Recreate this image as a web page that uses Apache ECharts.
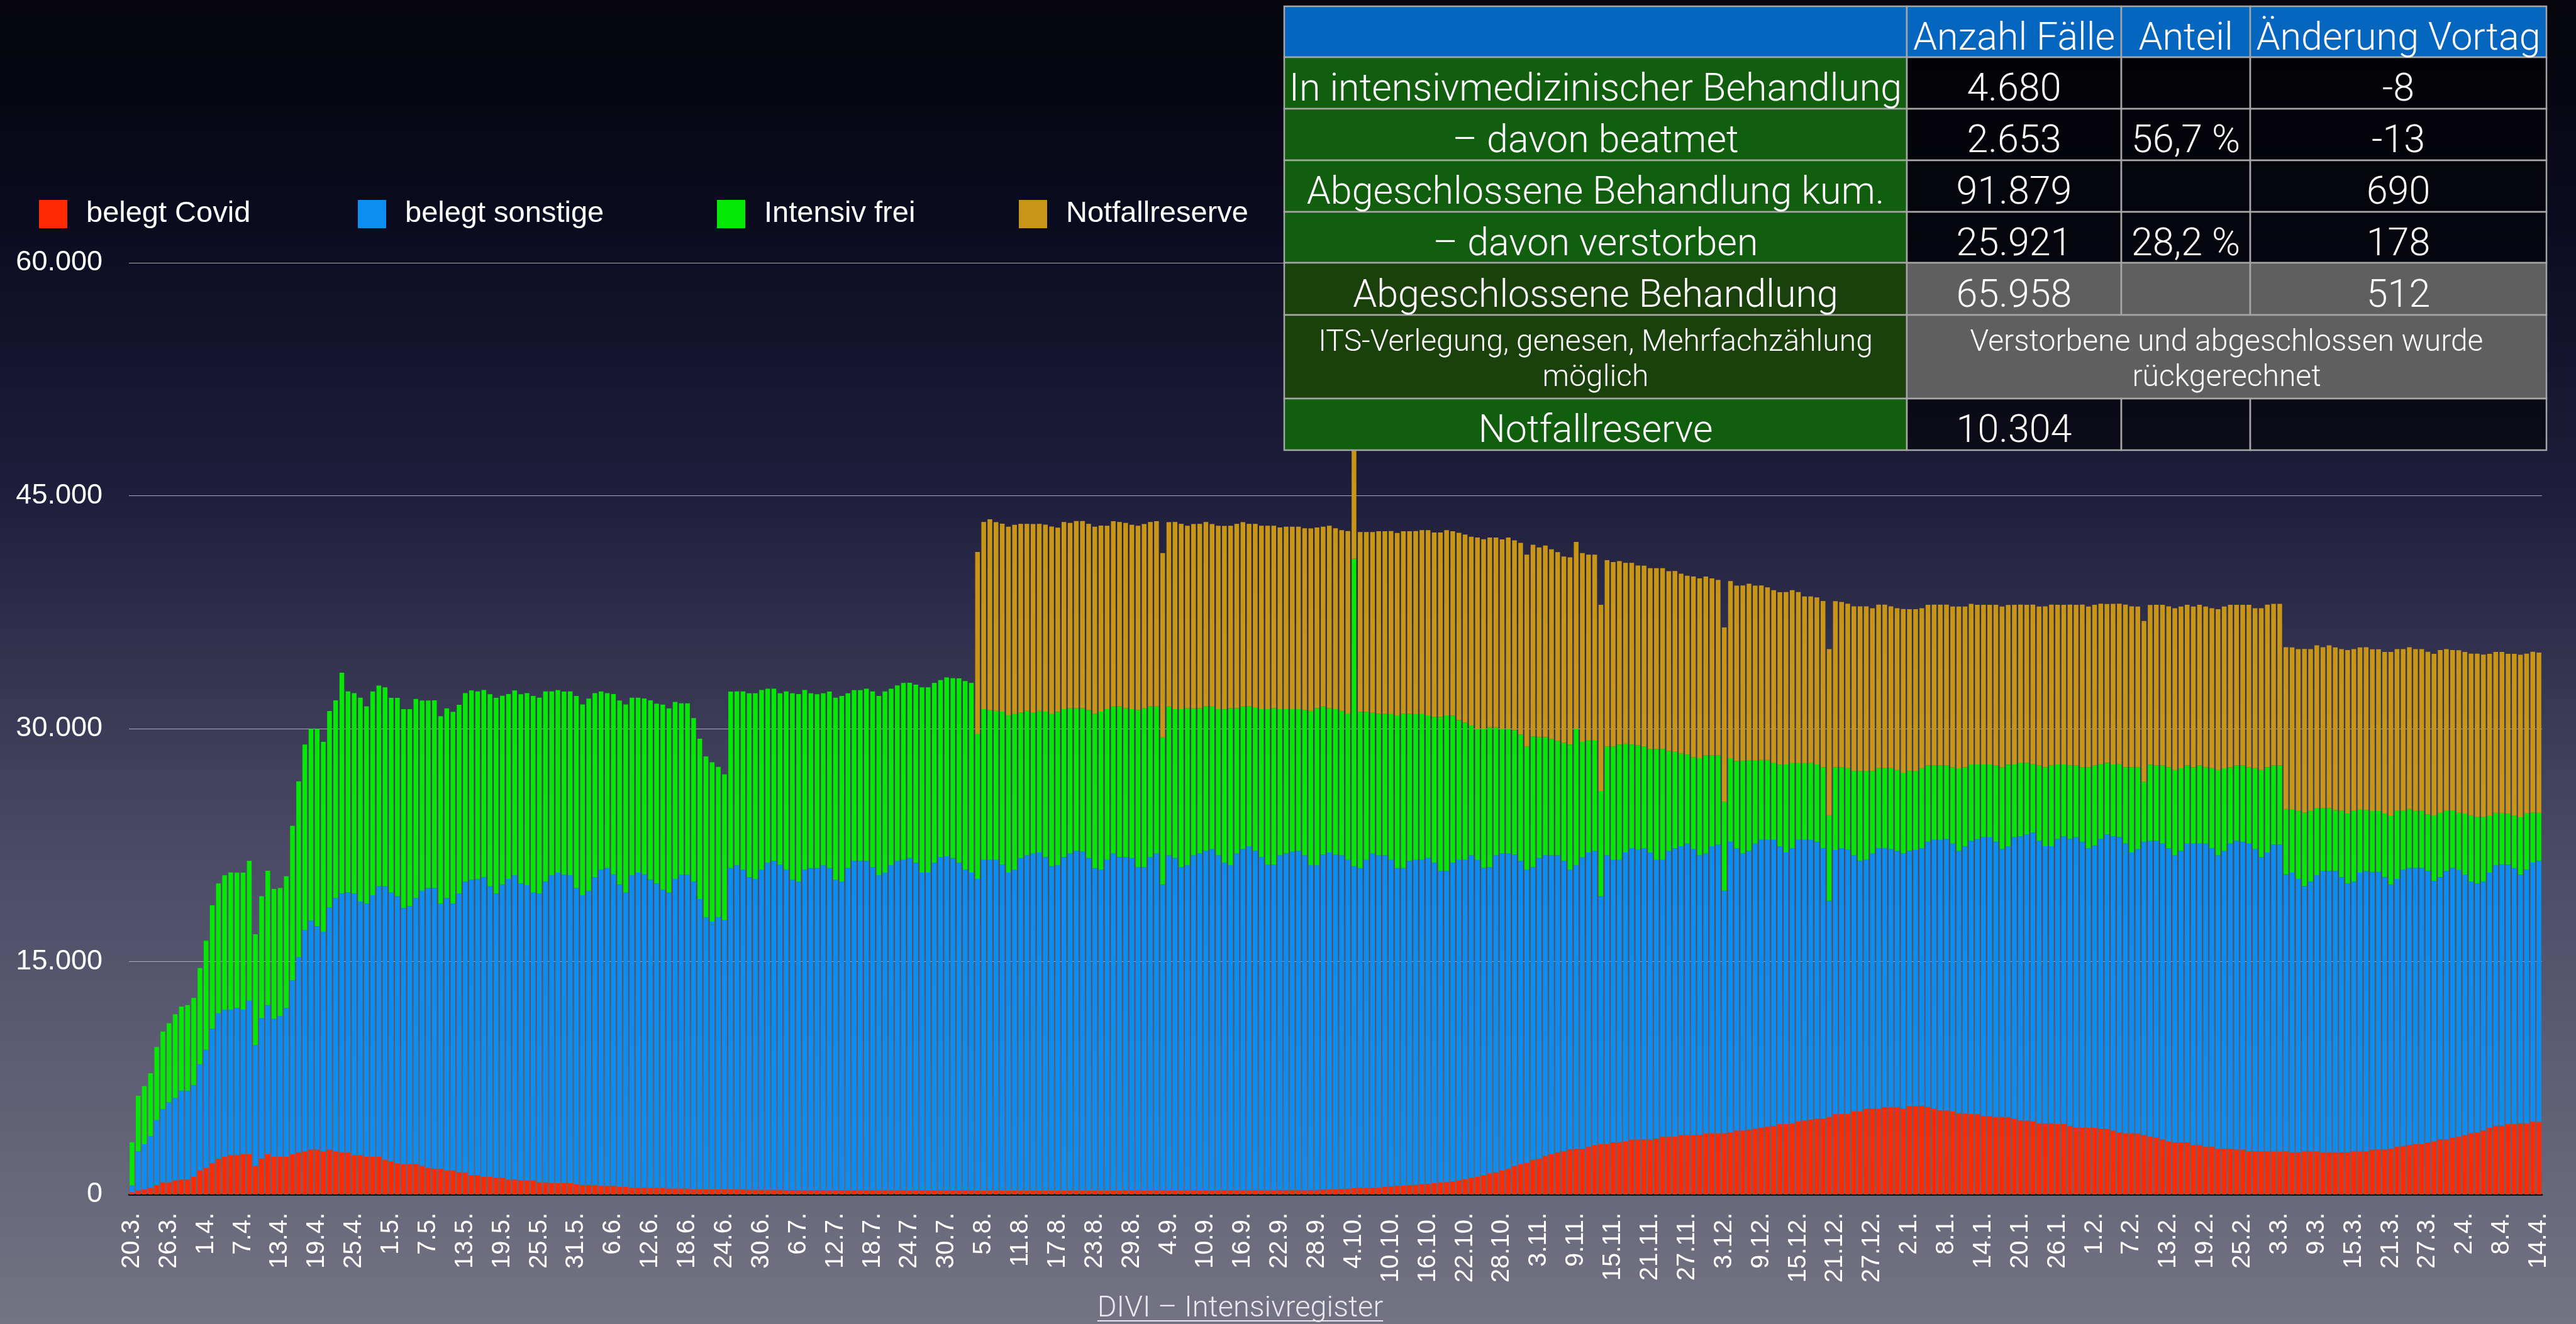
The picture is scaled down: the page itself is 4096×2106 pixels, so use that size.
<!DOCTYPE html>
<html>
<head>
<meta charset="utf-8">
<script src="https://cdn.jsdelivr.net/npm/echarts@6/dist/echarts.min.js"></script>
<style>
html,body{margin:0;padding:0;background:#04040a;}
#chart{width:4096px;height:2106px;}
</style>
</head>
<body>
<div id="chart"></div>
<script>
// ---------------- DATA ----------------
const startDate = [2020, 3, 20]; // 20.3.2020, daily to 14.4.2021 (391 days)
const dayCount = 391;
const seriesNames = ['belegt Covid', 'belegt sonstige', 'Intensiv frei', 'Notfallreserve'];
const yTicks = [0, 15000, 30000, 45000, 60000];

const belegtCovid = [
146,263,322,439,614,789,789,906,965,965,
1140,1550,1725,2018,2310,2427,2544,2544,2602,2602,
1842,2310,2602,2427,2427,2427,2602,2719,2778,2895,
2895,2778,2895,2778,2719,2719,2544,2544,2427,2427,
2427,2251,2135,2018,1959,1959,1959,1842,1725,1667,
1667,1550,1550,1433,1433,1257,1257,1140,1140,1082,
1082,965,965,906,906,906,789,789,731,731,
731,731,673,614,614,614,556,556,556,497,
497,439,439,439,439,439,439,380,380,380,
380,322,322,322,322,322,322,
320,320,310,300,300,300,300,300,300,
280,280,280,280,280,280,280,280,280,280,
270,270,270,270,270,270,270,270,270,270,
260,260,260,260,260,260,260,260,260,260,260,
240,240,240,240,240,240,240,240,240,240,240,240,240,240,240,240,240,240,240,240,240,240,240,240,
250,250,250,250,250,250,250,250,250,250,250,250,250,250,250,
270,270,270,270,270,270,270,270,270,270,
290,290,290,290,290,290,290,
310,320,330,350,370,
430,440,440,450,460,500,530,560,570,610,
630,670,690,730,790,800,850,910,970,1080,
1140,1260,1370,1430,1550,1670,1840,1960,2020,2250,
2310,2490,2600,2720,2780,2900,2950,2960,3070,3190,
3250,3250,3360,3370,3420,3540,3540,3540,3540,3600,
3710,3710,3720,3830,3830,3830,3840,3950,3950,3950,
3950,4010,4120,4120,4180,4240,4300,4360,4420,4530,
4530,4590,4710,4770,4830,4880,4890,5000,5170,5180,
5180,5350,5350,5530,5530,5530,5640,5640,5640,5530,
5700,5700,5700,5640,5530,5410,5410,
5350,5230,5230,5180,5170,5060,5050,5000,5000,4990,
4880,4770,4760,4710,4590,4590,4580,4530,4530,4420,
4300,4300,4290,4290,4240,4230,4120,4010,3950,3950,
3940,3830,3710,3660,3540,3420,3360,3360,3360,3190,
3180,3070,3070,2950,2950,2950,2900,2890,2780,2780,
2780,2780,2770,2770,2780,2720,2720,2780,2780,2780,
2720,2720,2720,2720,2720,2780,2780,2780,2890,2900,
2900,2950,3070,3130,3190,3250,3250,3360,3420,3540,
3540,3660,3710,3830,3950,4010,4120,4300,4420,4420,
4530,4530,4590,4590,4688,4680
];

const belegtSonstige = [
440,2520,2920,3330,4180,4710,5150,5320,5730,5730,
5910,6840,7600,8660,9360,9470,9360,9470,9300,9880,
7780,9060,9590,8890,9060,9590,11200,12570,14270,14740,
14390,14150,15610,16320,16670,16730,16840,16320,16320,16840,
17430,17600,17310,17190,16490,16610,17140,17720,18010,18070,
17080,17540,17190,17950,18710,19010,19060,19300,18710,18300,
18890,19360,19590,19120,19010,18540,18600,19360,19830,20000,
19880,19830,19060,18660,18950,19830,20350,20470,20060,19470,
18950,20120,20290,20180,19830,19590,19180,19060,19940,20230,
20230,19830,18710,17540,17250,17540,17340,
20700,20880,20600,20140,20020,20610,21070,21190,20960,
20630,19980,19870,20630,20740,20740,20920,20740,19980,19870,
20750,21220,21220,21220,20810,20290,20460,20930,21220,21280,
21410,21110,20470,20470,21110,21470,21520,21410,21110,20650,20470,
20080,21310,21310,21310,21020,20490,20670,21430,21600,21720,21780,21490,20900,20960,21490,21720,21900,21840,21430,20780,20670,21310,21720,21490,
21480,21420,20830,20830,21480,21710,19720,21590,21420,20830,20950,21590,21710,21890,22000,
21570,21100,20930,21690,21980,22160,21870,21460,20990,20990,
21550,21670,21790,21850,21550,20910,20910,
21590,21700,21570,21490,21180,
20710,20580,21110,21510,21380,21340,21020,20460,20450,20880,
20920,20880,20980,20640,20060,20050,20520,20640,20590,20760,
20410,19770,19710,20410,20410,20290,20060,19530,18890,18830,
19360,19360,19240,19120,18710,18010,18250,18760,18950,18940,
15960,18590,18190,18180,18600,18770,18660,18770,18480,17950,
17840,18420,18590,18600,18770,18420,18000,18010,18480,18600,
15610,18710,18190,17840,17950,18360,18540,18480,18420,17890,
17490,17720,18130,18070,18010,17840,17420,13920,17020,17130,
17020,16490,16140,16020,16430,16780,16670,16610,16490,16430,
16430,16490,16610,17080,17310,17430,17490,
17250,16900,17190,17600,17720,17950,17960,17720,17250,17430,
18130,18300,18420,18600,18190,17840,17850,18360,18540,18480,
18710,18420,18010,18190,18660,18950,18950,19010,18660,18070,
18310,18890,19060,19120,19060,18890,18480,18770,19240,19410,
19420,19530,19240,18890,19180,19650,19880,19830,19820,19470,
18950,19240,19770,19770,17840,18010,17600,17080,17370,17780,
18130,18130,18120,17720,17310,17370,17950,18070,17890,17880,
17540,17020,17250,17780,17840,17780,17780,17490,16780,16900,
17310,17370,17190,16780,16200,16020,16030,16430,16780,16840,
16720,16490,16020,16320,16690,16810
];

const intensivFrei = [
2780,3570,3740,4040,4710,5000,5090,5380,5410,5500,
5610,6200,7020,7950,8360,8660,8830,8710,8830,9010,
7140,7840,8660,8360,8250,8480,9940,11320,11930,12340,
12690,12220,12630,12720,14210,12950,12900,13130,12690,13130,
12920,12810,12540,12780,12810,12690,12810,12250,12080,12080,
12050,12220,12340,12160,12140,12190,12080,12050,12370,12600,
12140,11900,11900,12190,12370,12660,12600,12250,11840,11750,
11780,11840,12370,12280,12370,11840,11490,11260,11610,11840,
12110,11430,11260,11320,11550,11580,11930,11870,11400,11020,
11020,10530,10320,10350,10260,9680,9390,
11370,11200,11490,11840,11960,11580,11200,11080,11020,
11490,12020,12080,11580,11260,11200,11080,11370,11730,11960,
11260,10990,10990,11080,11320,11550,11670,11370,11290,11400,
11290,11460,11930,11930,11580,11400,11520,11580,11870,12160,12220,
9360,9710,9650,9590,9830,10120,10060,9360,9300,9060,9120,9360,9830,9880,9530,9360,9180,9240,9530,9940,10180,9710,9470,9710,
9590,9590,10120,10230,9710,9470,9470,9590,9590,10180,10120,9470,9360,9300,9180,
9420,9880,10120,9360,9180,9010,9240,9530,10000,10060,
9420,9300,9180,9120,9360,9940,10120,
9530,9300,9360,9300,9420,
19800,10060,9530,9060,9120,9120,9420,9830,9940,9470,
9420,9420,9180,9390,9910,10000,9470,9010,8830,8360,
8420,8950,9010,8250,8010,8010,8010,8130,7950,8420,
7780,7600,7490,7370,7600,8070,8770,7430,7250,7140,
6780,7020,7310,7430,7020,6670,6730,6550,6670,7140,
7140,6430,6200,5970,5730,5910,6260,6320,5850,5730,
5730,5380,5610,5970,5850,5380,5150,5150,4970,5260,
5670,5500,4970,4970,4970,4970,5210,5500,5320,5210,
5260,5440,5790,5730,5320,5150,5150,5210,5210,5210,
5150,5090,5150,4910,4800,4800,4740,
4910,5320,5090,4910,4800,4680,4680,4910,5260,5260,
4680,4740,4620,4390,4850,5090,5210,4800,4620,4740,
4620,4800,5210,5150,4800,4620,4620,4680,4910,5500,
5260,3860,4910,4850,5030,5210,5500,5320,5030,4910,
5030,4910,5150,5500,5320,4910,4850,4910,4910,5210,
5610,5500,5090,5090,4210,4090,4390,4740,4560,4330,
4040,4040,3920,4270,4500,4560,4090,3920,3920,3920,
4090,4440,4390,3800,3800,3680,3680,3630,4210,4150,
3860,3680,3680,3920,4270,4270,4150,3680,3390,3330,
3280,3390,3680,3630,3220,3100
];

const notfallreserve = [
0,0,0,0,0,0,0,0,0,0, 0,0,0,0,0,0,0,0,0,0, 0,0,0,0,0,0,0,0,0,0,
0,0,0,0,0,0,0,0,0,0, 0,0,0,0,0,0,0,0,0,0, 0,0,0,0,0,0,0,0,0,0,
0,0,0,0,0,0,0,0,0,0, 0,0,0,0,0,0,0,0,0,0, 0,0,0,0,0,0,0,0,0,0,
0,0,0,0,0,0,0,0,0,0, 0,0,0,0,0,0,0,0,0,0, 0,0,0,0,0,0,0,0,0,0,
0,0,0,0,0,0,0,0,0,0, 0,0,0,0,0,0,0,
11700,12050,12280,12160,12110,12160,12160,12160,12050,12160,12050,12050,12050,11870,12050,11930,12050,12050,11990,12050,11990,11810,11930,11870,
11930,11870,11870,11870,11870,11930,11870,11870,12050,11930,11750,11870,11870,11870,11750,
11810,11810,11750,11870,11870,11750,11810,11810,11810,11750,
11700,11750,11750,11750,11700,11750,11640,
11580,11750,11640,11640,11750,
8000,11580,11580,11640,11750,11750,11750,11750,11750,11750,
11750,11810,11930,11870,11870,11930,11870,12050,12110,12160,
12340,12220,12220,12220,12220,12340,12220,12340,12340,12340,
12220,12340,12220,12160,11990,12050,12050,12160,11930,11930,
11990,11990,11870,11810,11640,11700,11580,11640,11640,11640,
11640,11580,11640,11580,11520,11640,11580,11520,11400,11290,
11230,11400,11290,11290,11350,11230,11230,11110,11110,11110,
11110,11110,10990,10700,10700,10760,10700,10700,10700,10640,
10590,10590,10590,10590,10470,10530,10530,10410,10410,10530,
10410,10410,10290,10350,10350,10350,10350,
10350,10410,10350,10350,10290,10290,10290,10350,10350,10290,
10290,10180,10180,10290,10230,10350,10350,10290,10290,10350,
10350,10470,10350,10350,10350,10230,10350,10350,10470,10350,
10350,10350,10290,10350,10350,10350,10410,10410,10350,10350,
10350,10350,10290,10350,10410,10470,10350,10350,10470,10290,
10410,10470,10410,10410,10410,10410,10410,10530,10410,10470,
10350,10470,10470,10410,10530,10410,10410,10470,10410,10410,
10410,10530,10410,10410,10410,10410,10410,10470,10410,10470,
10410,10350,10470,10410,10410,10530,10470,10410,10350,10350,
10290,10410,10470,10290,10350,10304
];

// table content
const tableHeader = ['', 'Anzahl Fälle', 'Anteil', 'Änderung Vortag'];
const tableLabels = ['In intensivmedizinischer Behandlung', '– davon beatmet', 'Abgeschlossene Behandlung kum.', '– davon verstorben', 'Abgeschlossene Behandlung', 'ITS-Verlegung, genesen, Mehrfachzählung\nmöglich', 'Notfallreserve'];
const tableAnzahl = ['4.680', '2.653', '91.879', '25.921', '65.958', null, '10.304'];
const tableAnteil = ['', '56,7 %', '', '28,2 %', '', null, ''];
const tableAenderung = ['-8', '-13', '690', '178', '512', null, ''];
const tableMergedNote = 'Verstorbene und abgeschlossen wurde\nrückgerechnet';
const captionText = 'DIVI – Intensivregister';

// ---------------- BUILD ----------------
const categories = [];
for (let i = 0; i < dayCount; i++) {
  const d = new Date(Date.UTC(startDate[0], startDate[1] - 1, startDate[2] + i));
  categories.push(d.getUTCDate() + '.' + (d.getUTCMonth() + 1) + '.');
}
const fmt = v => String(v).replace(/\B(?=(\d{3})+(?!\d))/g, '.');

const colors = ['#ff2a00', '#0b8ef2', '#05e805', '#c99516'];
const seriesData = [belegtCovid, belegtSonstige, intensivFrei, notfallreserve];

// table geometry
const colX = [2042, 3032, 3373, 3578, 4049];
const rowY = [10, 91, 173, 255, 337, 418, 501, 634, 716];
const GREEN = '#115e0e', DKGREEN = '#1a410b', BLUE = '#0566c0', GRAY = '#5f5f5f', DARK = 'rgba(0,0,0,0.55)';
const TFONT = 'Roboto, "Liberation Sans", sans-serif';
const graphics = [];
function cell(x0, x1, y0, y1, fill, text, size, lh, dy) {
  graphics.push({type: 'rect', z: 100, shape: {x: x0, y: y0, width: x1 - x0, height: y1 - y0},
    style: {fill: fill, stroke: '#a6a6a6', lineWidth: 2.5}});
  if (text) {
    graphics.push({type: 'text', z: 101, x: (x0 + x1) / 2, y: (y0 + y1) / 2 + (dy == null ? 13 : dy),
      style: {text: text, fill: '#ffffff', fontSize: size, fontFamily: TFONT, fontWeight: 300,
        align: 'center', verticalAlign: 'middle', lineHeight: lh || size * 1.2}});
  }
}
// header
for (let c = 0; c < 4; c++) cell(colX[c], colX[c + 1], rowY[0], rowY[1], BLUE, tableHeader[c], 61);
for (let r = 0; r < tableLabels.length; r++) {
  const y0 = rowY[r + 1], y1 = rowY[r + 2];
  const isGrayRow = (r === 4 || r === 5);
  const small = r === 5;
  cell(colX[0], colX[1], y0, y1, isGrayRow ? DKGREEN : GREEN, tableLabels[r], small ? 48 : 61, small ? 56 : null, small ? 6 : 13);
  if (r === 5) {
    cell(colX[1], colX[4], y0, y1, GRAY, tableMergedNote, 48, 56, 6);
  } else {
    const vf = isGrayRow ? GRAY : DARK;
    cell(colX[1], colX[2], y0, y1, vf, tableAnzahl[r], 61);
    cell(colX[2], colX[3], y0, y1, vf, tableAnteil[r], 61);
    cell(colX[3], colX[4], y0, y1, vf, tableAenderung[r], 61);
  }
}
// caption with underline
const capSize = 47;
const cv = document.createElement('canvas').getContext('2d');
cv.font = '300 ' + capSize + 'px Roboto';
const capW = cv.measureText(captionText).width;
const capX = 1972;
graphics.push({type: 'text', z: 101, x: capX, y: 2082,
  style: {text: captionText, fill: '#e8e8ee', fontSize: capSize, fontFamily: TFONT, fontWeight: 300, align: 'center', verticalAlign: 'middle'}});
graphics.push({type: 'line', z: 101, shape: {x1: capX - capW / 2, y1: 2101, x2: capX + capW / 2, y2: 2101},
  style: {stroke: '#e8e8ee', lineWidth: 2}});

const legendLeft = [62, 569, 1140, 1620];
const legends = seriesNames.map((n, k) => ({
  data: [n], left: legendLeft[k], top: 317, padding: 0, itemWidth: 45, itemHeight: 45, itemGap: 0,
  icon: 'rect', selectedMode: false,
  textStyle: {color: '#ffffff', fontSize: 47, fontFamily: '"Liberation Sans", Arial, sans-serif', padding: [0, 0, 0, 25]}
}));

const chart = echarts.init(document.getElementById('chart'), null, {renderer: 'canvas'});
chart.setOption({
  animation: false,
  backgroundColor: {type: 'linear', x: 0, y: 0, x2: 0, y2: 1, colorStops: [
    {offset: 0, color: '#04040a'}, {offset: 0.17, color: '#0b0b20'}, {offset: 0.37, color: '#1e1e3c'},
    {offset: 0.64, color: '#4a4a66'}, {offset: 0.9, color: '#68687b'}, {offset: 1, color: '#737383'}]},
  legend: legends,
  grid: {left: 205, right: 54, top: 418, bottom: 206},
  xAxis: {
    type: 'category', data: categories, boundaryGap: true,
    axisLine: {show: true, lineStyle: {color: '#000000', width: 2.5}},
    axisTick: {show: false},
    axisLabel: {interval: 5, rotate: 90, color: '#ffffff', fontSize: 40, margin: 29,
      fontFamily: '"Liberation Sans", Arial, sans-serif'}
  },
  yAxis: {
    type: 'value', min: yTicks[0], max: yTicks[yTicks.length - 1], interval: yTicks[1] - yTicks[0],
    axisLine: {show: false}, axisTick: {show: false},
    splitLine: {show: true, lineStyle: {color: '#a9a9a9', width: 1.2}},
    axisLabel: {color: '#ffffff', fontSize: 45, margin: 42, formatter: fmt,
      fontFamily: '"Liberation Sans", Arial, sans-serif'}
  },
  series: seriesNames.map((n, k) => ({
    name: n, type: 'bar', stack: 'total', data: seriesData[k], barCategoryGap: '24%',
    itemStyle: {color: colors[k]}, emphasis: {disabled: true}
  })),
  graphic: {elements: graphics}
});
</script>
</body>
</html>
